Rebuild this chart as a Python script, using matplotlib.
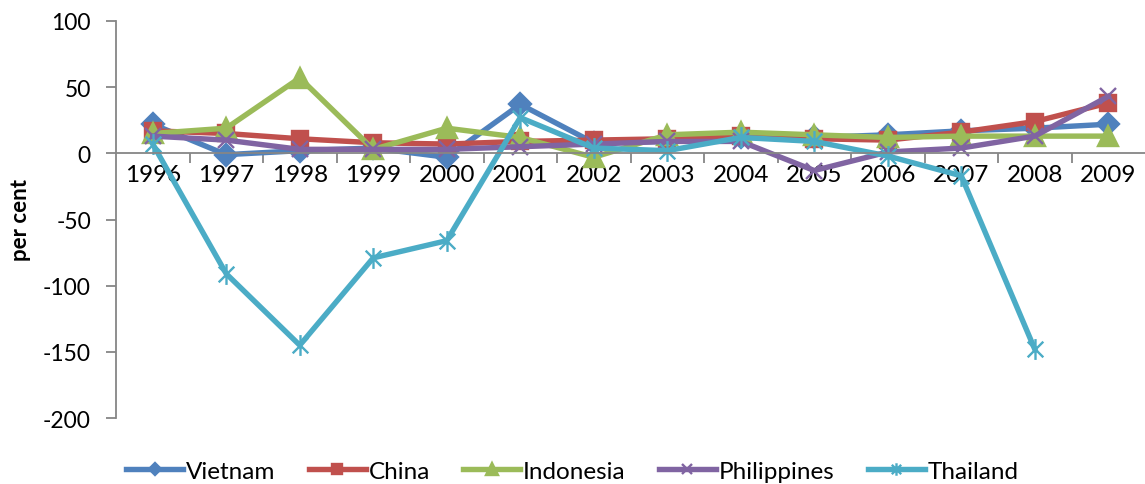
import matplotlib
matplotlib.use("Agg")
import matplotlib.pyplot as plt
from matplotlib.path import Path
from matplotlib.ticker import FixedLocator

plt.rcParams['font.family'] = ['Lato', 'DejaVu Sans']
plt.rcParams['axes.unicode_minus'] = False

years = ['1996', '1997', '1998', '1999', '2000', '2001', '2002',
         '2003', '2004', '2005', '2006', '2007', '2008', '2009']
vietnam = [22, -1, 2, 4, -3, 37, 8, 9, 12, 12, 14, 17, 19, 22]
china = [17, 15, 11, 8, 7, 9, 10, 11, 13, 11, 10, 16, 24, 38]
indonesia = [15, 19, 57, 3, 19, 12, -3, 14, 16, 14, 12, 13, 13, 13]
philippines = [13, 10, 3, 3, 3, 5, 7, 9, 9, -13, 1, 4, 13, 43]
thailand = [7, -91, -145, -79, -66, 27, 4, 2, 12, 9, -2, -17, -148, None]

# asterisk marker: vertical bar plus two diagonals
star = Path([(0, -1), (0, 1), (-0.75, -0.75), (0.75, 0.75), (-0.75, 0.75), (0.75, -0.75)],
            [Path.MOVETO, Path.LINETO, Path.MOVETO, Path.LINETO, Path.MOVETO, Path.LINETO])

series = [
    ('Vietnam', vietnam, '#4F81BD', 'D', 11),
    ('China', china, '#C0504D', 's', 12),
    ('Indonesia', indonesia, '#9BBB59', '^', 14),
    ('Philippines', philippines, '#8064A2', 'x', 12),
    ('Thailand', thailand, '#4BACC6', star, 15),
]

fig = plt.figure(figsize=(11.45, 4.85), dpi=100)
ax = fig.add_axes([116 / 1145, 1 - 419 / 485, 1 - 116 / 1145, (419 - 22) / 485])

x = list(range(len(years)))
for name, vals, col, mk, ms in series:
    xs = [i for i, v in zip(x, vals) if v is not None]
    ys = [v for v in vals if v is not None]
    ax.plot(xs, ys, color=col, lw=3.9, marker=mk, markersize=ms,
            markerfacecolor=col, markeredgecolor=col, markeredgewidth=1.7,
            label=name, solid_joinstyle='round', clip_on=False)

ax.set_xlim(-0.5, 13.5)
ax.set_ylim(-200, 100)
ax.set_yticks(range(-200, 101, 50))
ax.spines['top'].set_visible(False)
ax.spines['right'].set_visible(False)
ax.spines['left'].set_color('#868686')
ax.spines['bottom'].set_color('#868686')
ax.spines['bottom'].set_position(('data', 0))
ax.spines['left'].set_linewidth(1.3)
ax.spines['bottom'].set_linewidth(1.3)

ax.set_xticks(x)
ax.set_xticklabels(years)
ax.xaxis.set_minor_locator(FixedLocator([i + 0.5 for i in range(13)]))
ax.tick_params(axis='x', which='major', length=0, pad=8, labelsize=17.5, colors='black')
ax.tick_params(axis='x', which='minor', length=7, width=1.3, color='#868686', direction='out')
ax.tick_params(axis='y', length=7, width=1.3, color='#868686', direction='out',
               labelsize=16.5, pad=11)

ax.set_ylabel('per cent', fontsize=16, fontweight='bold')
ax.yaxis.set_label_coords(-85 / 1030, 0.5)

fig.legend(*ax.get_legend_handles_labels(), loc='center',
           bbox_to_anchor=(0.5, 1 - 472 / 485), ncol=5, frameon=False,
           fontsize=17.5, handlelength=2.35, columnspacing=1.36,
           handletextpad=0.12, markerscale=0.6)

fig.savefig('out.png', dpi=100)
